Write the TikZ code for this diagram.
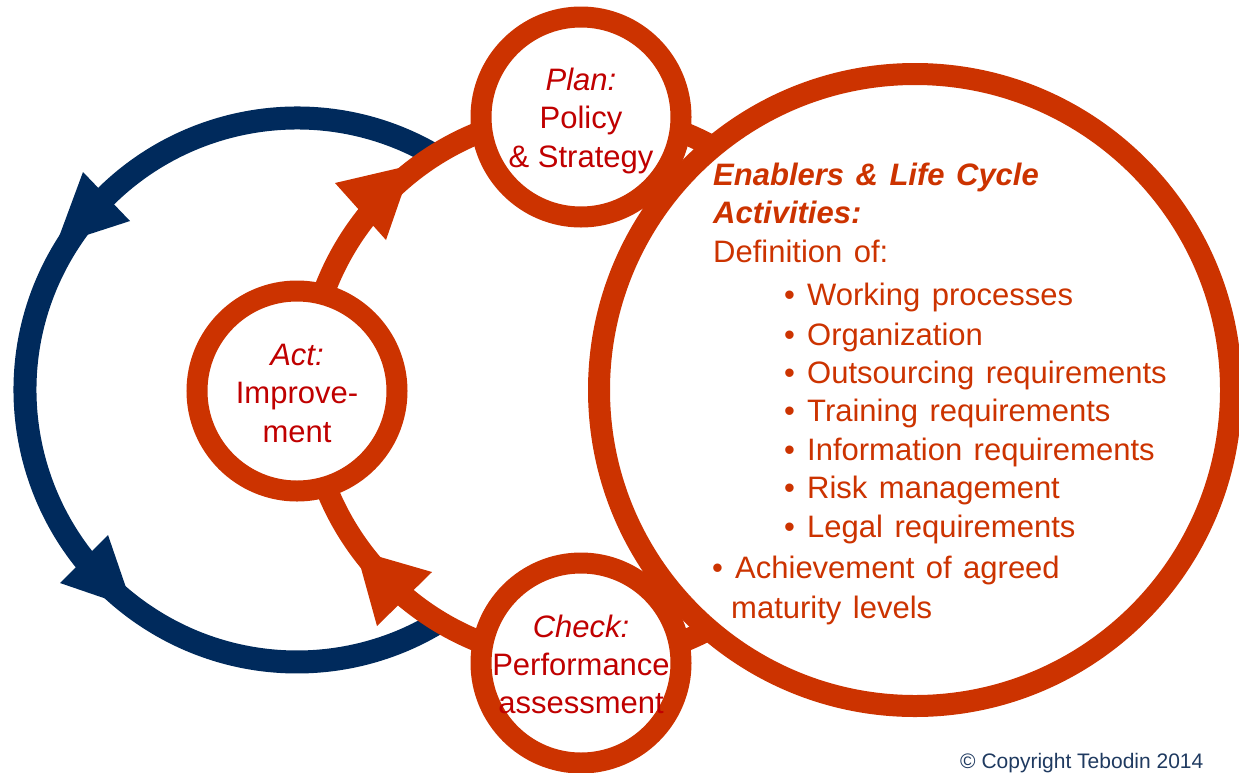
\documentclass[tikz,border=0pt]{standalone}
\usepackage{fontspec}
\setmainfont{Liberation Sans}
\definecolor{ringorange}{HTML}{CC3300}
\definecolor{navyring}{HTML}{002A5C}
\definecolor{circred}{HTML}{C00000}
\definecolor{enabcol}{HTML}{CC3300}
\definecolor{copycol}{HTML}{1F3A60}
\newcommand{\widespacing}{\spaceskip=11.5pt plus 3pt minus 2pt\relax}
\begin{document}
\begin{tikzpicture}[x=1pt,y=-1pt,
  orangering/.style={draw=ringorange, line width=22pt},
  bluering/.style={draw=navyring, line width=23pt},
  smallcirc/.style={circle, draw=ringorange, line width=21pt, fill=white, minimum size=200pt, inner sep=0pt},
  bigcirc/.style={circle, draw=ringorange, line width=22pt, fill=white, minimum size=632pt, inner sep=0pt},
  ctext/.style={anchor=base, text=circred, font=\fontsize{31}{37}\selectfont, inner sep=0pt},
  etext/.style={anchor=base west, text=enabcol, font=\fontsize{31}{37}\selectfont, inner sep=0pt, execute at begin node=\widespacing},
  bluehead/.style={fill=navyring},
  orangehead/.style={fill=ringorange}]
\useasboundingbox (0,0) rectangle (1239,772);

% outer blue cycle
\coordinate (bluec) at (297,390);
\draw[bluering] (bluec) ++(-58.5:272) arc[start angle=-58.5, end angle=-301.5, radius=272];
\fill[bluehead] (83,172) -- (130,221) -- (56,245) -- cycle;
\fill[bluehead] (108,535) -- (60,583) -- (133,608) -- cycle;

% orange PDCA ring
\coordinate (orangec) at (581,387);
\draw[orangering] (orangec) circle[radius=274];
\fill[orangehead] (335,183) -- (386,240) -- (412,165) -- cycle;
\fill[orangehead] (432,572) -- (377,626) -- (356,550) -- cycle;

% circles
\node[smallcirc] (plan) at (581,117) {};
\node[smallcirc] (act) at (297,391) {};
\node[smallcirc] (check) at (581,663) {};
\node[bigcirc] (big) at (915,390) {};

% circle texts
\node[ctext] (plant1) at (581,90) {\itshape Plan:};
\node[ctext] (plant2) at (581,128) {Policy};
\node[ctext] (plant3) at (581,167) {\&~Strategy};
\node[ctext] (actt1) at (297,365) {\itshape Act:};
\node[ctext] (actt2) at (297,403) {Improve-};
\node[ctext] (actt3) at (297,442) {ment};
\node[ctext] (chk1) at (581,637) {\itshape Check:};
\node[ctext] (chk2) at (581,675) {Performance};
\node[ctext] (chk3) at (581,713) {assessment};

% enablers text
\node[etext] (e1) at (713,185) {\bfseries\itshape Enablers \& Life Cycle};
\node[etext] (e2) at (713,223) {\bfseries\itshape Activities:};
\node[etext] (e3) at (713,262) {Definition of:};
\foreach \t/\yy [count=\i] in {Working processes/305, Organization/345, Outsourcing requirements/383, Training requirements/421, Information requirements/460, Risk management/498, Legal requirements/537}{
  \node[etext] (b\i) at (784,\yy) {\textbullet};
  \node[etext] (l\i) at (807,\yy) {\t};
}
\node[etext] (b8) at (712,578) {\textbullet};
\node[etext] (l8) at (735,578) {Achievement of agreed};
\node[etext] (l9) at (731,618) {maturity levels};

\node[anchor=base west, text=copycol, font=\fontsize{21}{25}\selectfont, inner sep=0pt] (copy) at (960,768) {\textcopyright{} Copyright Tebodin 2014};
\end{tikzpicture}
\end{document}
